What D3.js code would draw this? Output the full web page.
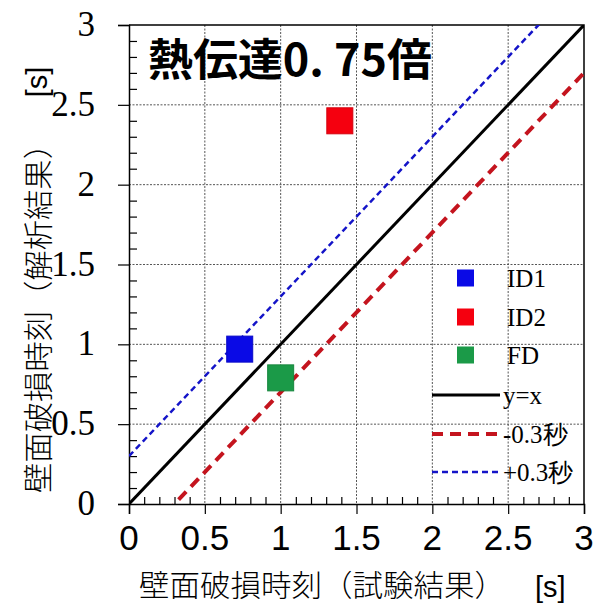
<!DOCTYPE html>
<html>
<head>
<meta charset="utf-8">
<script src="https://cdn.jsdelivr.net/npm/d3@7"></script>
<style>
  html, body { margin: 0; padding: 0; background: #fff; }
  svg { display: block; }
</style>
</head>
<body>
<div id="chart"></div>
<script>
// Series: wall failure time, test result (x) vs analysis result (y), in seconds
const seriesNames = ["ID1", "ID2", "FD"];
const seriesColors = ["#0a0ae6", "#f5000f", "#1b9a48"];
const testTimes = [0.73, 1.39, 1.0];
const analysisTimes = [0.97, 2.40, 0.79];

// Reference lines: y = x + offset
const refNames = ["y=x", "-0.3秒", "+0.3秒"];
const refOffsets = [0, -0.3, 0.3];

const tickValues = [0, 0.5, 1, 1.5, 2, 2.5, 3];
const tickLabels = ["0", "0.5", "1", "1.5", "2", "2.5", "3"];
const title = "熱伝達0. 75倍";
const xLabel = "壁面破損時刻（試験結果）";
const yLabel = "壁面破損時刻（解析結果）";
const unitLabel = "[s]";

const W = 596, H = 605;
const plot = { left: 129, right: 584, top: 25, bottom: 504 };

const x = d3.scaleLinear().domain([0, 3]).range([plot.left, plot.right]);
const y = d3.scaleLinear().domain([0, 3]).range([plot.bottom, plot.top]);

const svg = d3.select("#chart").append("svg")
  .attr("width", W).attr("height", H);

svg.append("defs").append("clipPath").attr("id", "plotClip")
  .append("rect")
  .attr("x", plot.left).attr("y", plot.top)
  .attr("width", plot.right - plot.left).attr("height", plot.bottom - plot.top);

// Dotted grid at the major ticks
const grid = svg.append("g").attr("stroke", "#555").attr("stroke-width", 1)
  .attr("stroke-dasharray", "2,1.5");
grid.selectAll("line.v").data(tickValues.slice(1, -1)).join("line")
  .attr("x1", d => x(d)).attr("x2", d => x(d))
  .attr("y1", plot.top).attr("y2", plot.bottom);
grid.selectAll("line.h").data(tickValues.slice(1, -1)).join("line")
  .attr("y1", d => y(d)).attr("y2", d => y(d))
  .attr("x1", plot.left).attr("x2", plot.right);

// Frame (top and right)
svg.append("path")
  .attr("d", `M${plot.left},${plot.top}H${plot.right}V${plot.bottom}`)
  .attr("fill", "none").attr("stroke", "#000").attr("stroke-width", 1.5);

// Minor ticks every 0.1 (inward)
const minor = d3.range(1, 30).map(i => i / 10).filter(v => Math.abs(v * 2 - Math.round(v * 2)) > 1e-6);
const xAxisG = svg.append("g").attr("transform", `translate(0,${plot.bottom})`);
xAxisG.call(d3.axisTop(x).tickValues(minor).tickSize(7).tickFormat(""))
  .call(g => g.select(".domain").remove());
xAxisG.append("g").call(d3.axisBottom(x).tickValues(tickValues).tickSize(10).tickFormat(""))
  .call(g => g.select(".domain").attr("stroke-width", 1.5));
xAxisG.selectAll(".tick line").attr("stroke", "#000").attr("stroke-width", 1.2);

const yAxisG = svg.append("g").attr("transform", `translate(${plot.left},0)`);
yAxisG.call(d3.axisRight(y).tickValues(minor).tickSize(8).tickFormat(""))
  .call(g => g.select(".domain").remove());
yAxisG.append("g").call(d3.axisLeft(y).tickValues(tickValues).tickSize(11).tickFormat(""))
  .call(g => g.select(".domain").attr("stroke-width", 1.5));
yAxisG.selectAll(".tick line").attr("stroke", "#000").attr("stroke-width", 1.2);

// Tick labels
svg.append("g").selectAll("text").data(tickValues).join("text")
  .attr("x", d => x(d)).attr("y", plot.bottom + 46)
  .attr("text-anchor", "middle")
  .attr("font-family", "'Liberation Sans', Arial, sans-serif")
  .attr("font-size", 35).attr("fill", "#000")
  .text((d, i) => tickLabels[i]);

svg.append("g").selectAll("text").data(tickValues).join("text")
  .attr("x", 95).attr("y", d => y(d) + 11)
  .attr("text-anchor", "end")
  .attr("font-family", "'Liberation Serif', 'Times New Roman', serif")
  .attr("font-size", 35).attr("fill", "#000")
  .text((d, i) => tickLabels[i]);

// Reference lines
const refStyles = [
  { stroke: "#000", width: 3, dash: null },
  { stroke: "#c4141e", width: 4, dash: "11,7" },
  { stroke: "#1414c8", width: 2.5, dash: "6,4" }
];
const lines = svg.append("g").attr("clip-path", "url(#plotClip)");
refOffsets.forEach((off, i) => {
  const pts = [[0, off], [3, 3 + off]];
  lines.append("line")
    .attr("x1", x(pts[0][0])).attr("y1", y(pts[0][1]))
    .attr("x2", x(pts[1][0])).attr("y2", y(pts[1][1]))
    .attr("stroke", refStyles[i].stroke)
    .attr("stroke-width", refStyles[i].width)
    .attr("stroke-dasharray", refStyles[i].dash);
});

// Data markers
const markerSize = 26;
svg.append("g").selectAll("rect").data(seriesNames).join("rect")
  .attr("x", (d, i) => x(testTimes[i]) - markerSize / 2)
  .attr("y", (d, i) => y(analysisTimes[i]) - markerSize / 2)
  .attr("width", markerSize).attr("height", markerSize)
  .attr("fill", (d, i) => seriesColors[i])
  .attr("stroke", (d, i) => d3.color(seriesColors[i]).darker(0.4))
  .attr("stroke-width", 1);

// Legend
const legend = svg.append("g")
  .attr("font-family", "'Liberation Serif', 'Times New Roman', serif")
  .attr("font-size", 25).attr("fill", "#000");
const legendRows = [278, 317, 355, 395, 434, 472];
seriesNames.forEach((name, i) => {
  legend.append("rect")
    .attr("x", 457).attr("y", legendRows[i] - 8.5)
    .attr("width", 17).attr("height", 17)
    .attr("fill", seriesColors[i]);
  legend.append("text").attr("x", 507).attr("y", legendRows[i] + 8.5).text(name);
});
refNames.forEach((name, i) => {
  const r = legendRows[i + 3];
  legend.append("line")
    .attr("x1", 432).attr("x2", 500).attr("y1", r).attr("y2", r)
    .attr("stroke", refStyles[i].stroke)
    .attr("stroke-width", refStyles[i].width)
    .attr("stroke-dasharray", refStyles[i].dash);
  legend.append("text").attr("x", 503).attr("y", r + 8.5).text(name);
});

// Title
svg.append("text")
  .attr("x", 148).attr("y", 76)
  .attr("font-family", "'Noto Sans CJK JP', sans-serif")
  .attr("font-weight", 700).attr("font-size", 44)
  .attr("textLength", 284).attr("lengthAdjust", "spacingAndGlyphs")
  .attr("fill", "#000")
  .text(title);

// Axis titles
svg.append("text")
  .attr("x", 139).attr("y", 596)
  .attr("font-family", "'Noto Sans CJK JP', sans-serif")
  .attr("font-weight", 300).attr("font-size", 30)
  .attr("textLength", 366).attr("lengthAdjust", "spacingAndGlyphs")
  .attr("fill", "#000").text(xLabel);
svg.append("text")
  .attr("x", 535).attr("y", 597)
  .attr("font-family", "'Liberation Sans', Arial, sans-serif")
  .attr("font-size", 29).attr("fill", "#000").text(unitLabel);

svg.append("text")
  .attr("transform", "translate(36,493) rotate(-90)")
  .attr("dominant-baseline", "central")
  .attr("font-family", "'Noto Sans CJK JP', sans-serif")
  .attr("font-weight", 300).attr("font-size", 30)
  .attr("textLength", 364).attr("lengthAdjust", "spacingAndGlyphs")
  .attr("fill", "#000").text(yLabel);
svg.append("text")
  .attr("transform", "translate(37,82) rotate(-90)")
  .attr("text-anchor", "middle").attr("dominant-baseline", "central")
  .attr("font-family", "'Liberation Sans', Arial, sans-serif")
  .attr("font-size", 29).attr("fill", "#000").text(unitLabel);
</script>
</body>
</html>
